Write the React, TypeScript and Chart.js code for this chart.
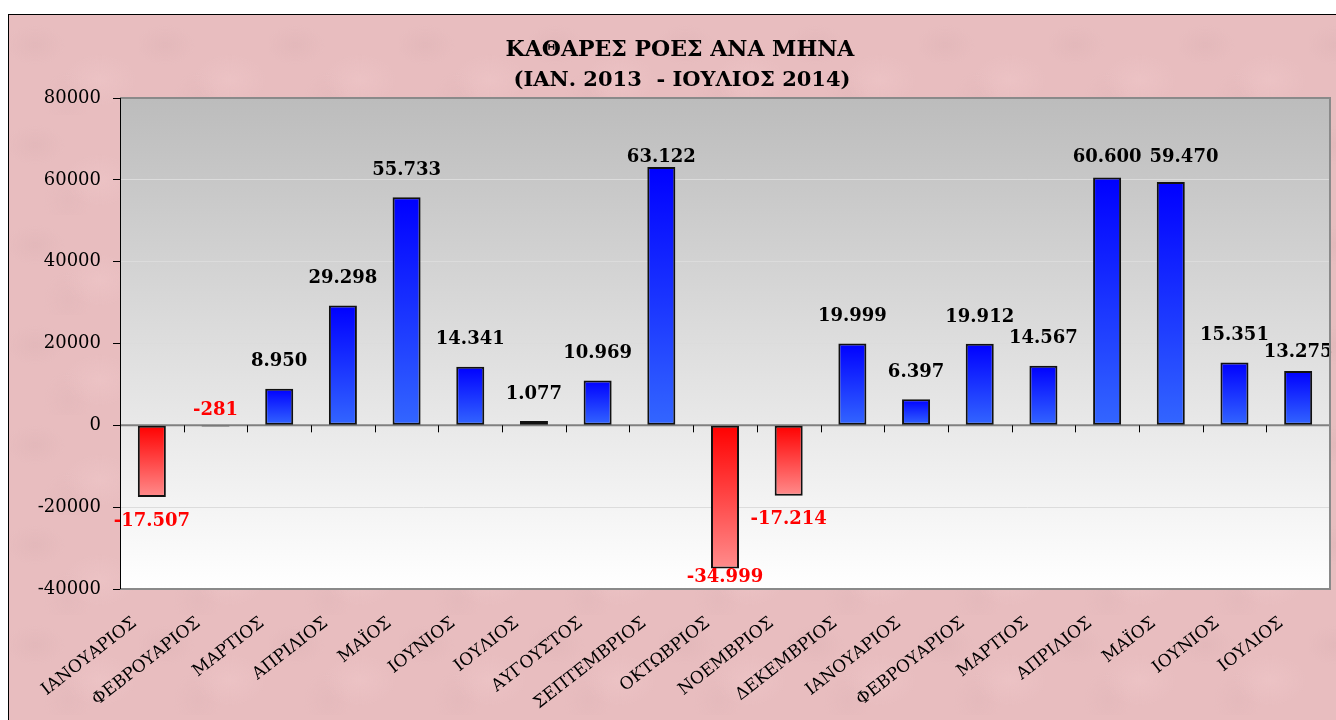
import React, { useEffect, useRef } from "react";
import { Chart, registerables } from "chart.js";

Chart.register(...registerables);

const TITLE_LINES = ["ΚΑΘΑΡΕΣ ΡΟΕΣ ΑΝΑ ΜΗΝΑ", "(ΙΑΝ. 2013  - ΙΟΥΛΙΟΣ 2014)"];

const MONTHS = [
  "ΙΑΝΟΥΑΡΙΟΣ",
  "ΦΕΒΡΟΥΑΡΙΟΣ",
  "ΜΑΡΤΙΟΣ",
  "ΑΠΡΙΛΙΟΣ",
  "ΜΑΪΟΣ",
  "ΙΟΥΝΙΟΣ",
  "ΙΟΥΛΙΟΣ",
  "ΑΥΓΟΥΣΤΟΣ",
  "ΣΕΠΤΕΜΒΡΙΟΣ",
  "ΟΚΤΩΒΡΙΟΣ",
  "ΝΟΕΜΒΡΙΟΣ",
  "ΔΕΚΕΜΒΡΙΟΣ",
  "ΙΑΝΟΥΑΡΙΟΣ",
  "ΦΕΒΡΟΥΑΡΙΟΣ",
  "ΜΑΡΤΙΟΣ",
  "ΑΠΡΙΛΙΟΣ",
  "ΜΑΪΟΣ",
  "ΙΟΥΝΙΟΣ",
  "ΙΟΥΛΙΟΣ",
];

const NET_FLOWS = [
  -17507, -281, 8950, 29298, 55733, 14341, 1077, 10969, 63122, -34999, -17214,
  19999, 6397, 19912, 14567, 60600, 59470, 15351, 13275,
];

const Y_MIN = -40000;
const Y_MAX = 80000;
const Y_STEP = 20000;

function formatValue(v: number): string {
  const s = Math.abs(v)
    .toString()
    .replace(/\B(?=(\d{3})+(?!\d))/g, ".");
  return (v < 0 ? "-" : "") + s;
}

const decorPlugin = {
  id: "decor",
  beforeDraw(chart: any) {
    const { ctx, chartArea: a } = chart;
    if (!a) return;
    ctx.save();
    const g = ctx.createLinearGradient(0, a.top, 0, a.bottom);
    g.addColorStop(0, "#bcbcbc");
    g.addColorStop(1, "#ffffff");
    ctx.fillStyle = g;
    ctx.fillRect(a.left, a.top, a.right - a.left, a.bottom - a.top);
    ctx.restore();

    ctx.save();
    ctx.fillStyle = "#000";
    ctx.textAlign = "center";
    ctx.textBaseline = "middle";
    ctx.font = 'bold 22px "DejaVu Serif"';
    ctx.fillText(TITLE_LINES[0], 671, 35);
    ctx.font = 'bold 21px "DejaVu Serif"';
    ctx.fillText(TITLE_LINES[1], 673, 66);
    ctx.restore();
  },
  beforeDatasetsDraw(chart: any) {
    const { ctx, chartArea: a, scales } = chart;
    const y0 = scales.y.getPixelForValue(0);
    ctx.save();
    ctx.strokeStyle = "#808080";
    ctx.lineWidth = 2;
    ctx.beginPath();
    ctx.moveTo(a.left, y0);
    ctx.lineTo(a.right, y0);
    ctx.stroke();
    ctx.strokeStyle = "#000";
    ctx.lineWidth = 1;
    const n = MONTHS.length;
    for (let i = 1; i < n; i++) {
      const x =
        Math.round(
          (scales.x.getPixelForValue(i - 1) + scales.x.getPixelForValue(i)) / 2
        ) + 0.5;
      ctx.beginPath();
      ctx.moveTo(x, y0);
      ctx.lineTo(x, y0 + 7);
      ctx.stroke();
    }
    ctx.restore();
  },
  afterDatasetsDraw(chart: any) {
    const { ctx, chartArea: a, scales } = chart;
    const meta = chart.getDatasetMeta(0);
    const y0 = scales.y.getPixelForValue(0);
    ctx.save();
    ctx.font = 'bold 18px "DejaVu Serif"';
    ctx.textAlign = "center";
    ctx.textBaseline = "middle";
    const placed: { l: number; r: number; t: number; b: number }[] = [];
    const halfH = 8;
    meta.data.forEach((el: any, i: number) => {
      const v = NET_FLOWS[i];
      const text = formatValue(v);
      const w = ctx.measureText(text).width;
      let y: number;
      if (v >= 0) {
        y = Math.max(el.y - 27, a.top + 59);
        ctx.fillStyle = "#000";
      } else {
        ctx.fillStyle = "#ff0000";
        if (Math.abs(el.y - y0) < 8) {
          y = y0 - 15;
        } else {
          y = Math.min(el.y + 24, a.bottom - 12);
        }
      }
      let x = el.x;
      // avoid overlapping the previous label
      const prev = placed[placed.length - 1];
      if (prev) {
        const l = x - w / 2;
        const vOverlap = y - halfH < prev.b && y + halfH > prev.t;
        if (vOverlap && l < prev.r + 6) {
          const prevY = (prev.t + prev.b) / 2;
          if (v >= 0 && y > prevY + 2) {
            y = prev.b + halfH + 1;
          } else {
            x += prev.r + 8 - l;
          }
        }
      }
      placed.push({ l: x - w / 2, r: x + w / 2, t: y - halfH, b: y + halfH });
      ctx.fillText(text, x, y);
    });
    ctx.restore();
  },
  afterDraw(chart: any) {
    const { ctx, chartArea: a } = chart;
    ctx.save();
    ctx.strokeStyle = "#8a8a8a";
    ctx.lineWidth = 2;
    ctx.beginPath();
    ctx.moveTo(a.left, a.top);
    ctx.lineTo(a.right, a.top);
    ctx.lineTo(a.right, a.bottom);
    ctx.lineTo(a.left, a.bottom);
    ctx.stroke();
    ctx.strokeStyle = "#000";
    ctx.lineWidth = 1;
    ctx.beginPath();
    ctx.moveTo(a.left + 0.5, a.top);
    ctx.lineTo(a.left + 0.5, a.bottom);
    ctx.stroke();
    ctx.restore();
  },
};

function barFill(context: any) {
  const chart = context.chart;
  const v = context.raw as number;
  const area = chart.chartArea;
  if (!area || !chart.scales || !chart.scales.y) {
    return v >= 0 ? "#1a3cff" : "#ff4040";
  }
  const ys = chart.scales.y;
  const p0 = ys.getPixelForValue(0);
  const p1 = ys.getPixelForValue(v);
  const top = Math.min(p0, p1);
  const bottom = Math.max(p0, p1) + 0.01;
  const g = chart.ctx.createLinearGradient(0, top, 0, bottom);
  if (v >= 0) {
    g.addColorStop(0, "#0000ff");
    g.addColorStop(1, "#3366ff");
  } else {
    g.addColorStop(0, "#ff0000");
    g.addColorStop(1, "#ff8c8c");
  }
  return g;
}

export default function App() {
  const canvasRef = useRef<HTMLCanvasElement | null>(null);

  useEffect(() => {
    if (!canvasRef.current) return;
    const chart = new Chart(canvasRef.current, {
      type: "bar",
      data: {
        labels: MONTHS,
        datasets: [
          {
            data: NET_FLOWS,
            backgroundColor: barFill as any,
            borderColor: "#111111",
            borderWidth: 2,
            borderSkipped: false,
            categoryPercentage: 1,
            barPercentage: 0.44,
          },
        ],
      },
      plugins: [decorPlugin],
      options: {
        animation: false,
        responsive: false,
        maintainAspectRatio: false,
        layout: { padding: { top: 83, right: 6, left: 0, bottom: 0 } },
        plugins: {
          legend: { display: false },
          title: { display: false },
          tooltip: { enabled: false },
        },
        scales: {
          x: {
            grid: { display: false, drawTicks: false },
            border: { display: false },
            ticks: {
              autoSkip: false,
              minRotation: 38,
              maxRotation: 38,
              padding: 24,
              labelOffset: -17,
              color: "#000",
              font: { family: '"DejaVu Serif"', size: 17 },
            },
            afterFit(scale: any) {
              scale.height = 131;
            },
          },
          y: {
            min: Y_MIN,
            max: Y_MAX,
            ticks: {
              stepSize: Y_STEP,
              color: "#000",
              padding: 12,
              font: { family: '"DejaVu Serif"', size: 18 },
              callback: (v: any) => String(v),
            },
            grid: {
              color: (c: any) =>
                c.tick &&
                (c.tick.value === 0 || c.tick.value === Y_MIN || c.tick.value === Y_MAX)
                  ? "rgba(0,0,0,0)"
                  : "#dcdcdc",
              tickColor: "#000",
              tickLength: 7,
              lineWidth: 1,
            },
            border: { display: true, color: "#000", width: 1 },
            afterFit(scale: any) {
              scale.width = 111;
            },
          },
        },
      },
    });
    return () => chart.destroy();
  }, []);

  const bg =
    "radial-gradient(ellipse at 20% 30%, rgba(210,168,171,0.22) 0, rgba(210,168,171,0) 30px)," +
    "radial-gradient(ellipse at 70% 65%, rgba(244,206,208,0.3) 0, rgba(244,206,208,0) 36px)," +
    "radial-gradient(ellipse at 45% 85%, rgba(214,172,175,0.18) 0, rgba(214,172,175,0) 24px)," +
    "#e8bdbf";

  return (
    <div
      style={{
        position: "fixed",
        left: 8,
        top: 14,
        width: 1328,
        height: 706,
        boxSizing: "border-box",
        borderTop: "1px solid #000",
        borderLeft: "1px solid #000",
        background: bg,
        backgroundSize: "130px 100px",
        overflow: "hidden",
      }}
    >
      <canvas
        ref={canvasRef}
        width={1327}
        height={705}
        style={{ display: "block", width: 1327, height: 705 }}
      />
    </div>
  );
}
